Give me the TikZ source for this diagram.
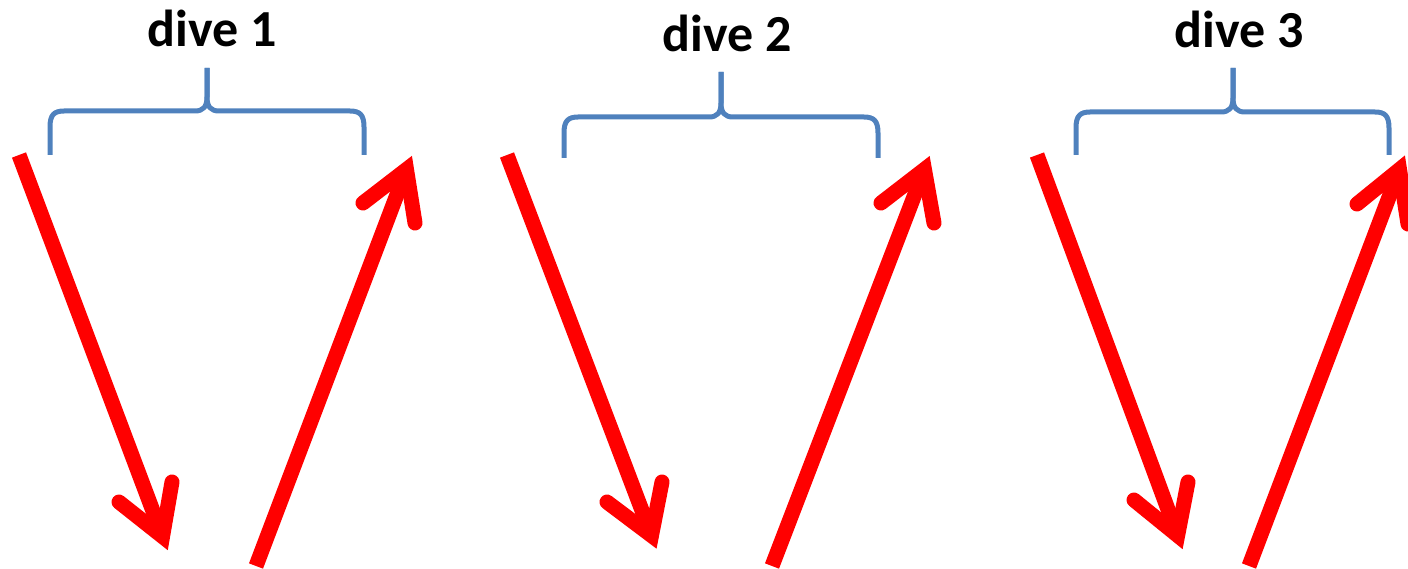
\documentclass[tikz,border=0pt]{standalone}
\usepackage{fontspec}
\setmainfont{Carlito}
\usetikzlibrary{calc}
\definecolor{arrowred}{RGB}{255,0,0}
\definecolor{braceblue}{RGB}{79,129,189}
\tikzset{
  shaft/.style={draw=arrowred, line width=15pt, line cap=butt},
  barb/.style={draw=arrowred, line width=15pt, line cap=round, line join=miter},
  bracket/.style={draw=braceblue, line width=5pt, line join=round},
  divelabel/.style={font=\bfseries\fontsize{52}{52}\selectfont, anchor=base, inner sep=0pt}
}
\newcommand\mkarrow[5]{%
  \coordinate (#1-s) at #2;
  \coordinate (#1-t) at #3;
  \coordinate (#1-a) at #4;
  \coordinate (#1-b) at #5;
  \coordinate (#1-v) at ($(#1-t)!15.5pt!(#1-s)$);
  \draw[shaft] (#1-s) -- (#1-v);
  \draw[barb] (#1-a) -- (#1-v) -- (#1-b);
}
% #1 name, #2 left x, #3 right x, #4 centre x, #5 horizontal y, #6 bottom y, #7 tip y
\newcommand\mkbrace[7]{%
  \coordinate (#1-l) at (#2,#6);
  \coordinate (#1-r) at (#3,#6);
  \coordinate (#1-c) at (#4,#7);
  \draw[bracket] (#1-l) -- ({#2},{#5+16}) .. controls ({#2},{#5+4}) and ({#2+4},{#5}) .. ({#2+14},{#5})
     -- ({#4-12},{#5}) .. controls ({#4-4},{#5}) and ({#4},{#5-4}) .. ({#4},{#5-14}) -- (#1-c);
  \draw[bracket] (#1-r) -- ({#3},{#5+16}) .. controls ({#3},{#5+4}) and ({#3-4},{#5}) .. ({#3-14},{#5})
     -- ({#4+12},{#5}) .. controls ({#4+4},{#5}) and ({#4},{#5-4}) .. ({#4},{#5-14}) -- (#1-c);
}
\begin{document}
\begin{tikzpicture}[x=1pt,y=-1pt]
\useasboundingbox (0,0) rectangle (1408,569);

% labels
\node[divelabel] (t1) at (212,47) {dive 1};
\node[divelabel] (t2) at (727,52) {dive 2};
\node[divelabel] (t3) at (1239,48) {dive 3};

% braces
\mkbrace{b1}{50}{364}{207}{111}{155}{68}
\mkbrace{b2}{564}{878}{721}{117}{158}{72}
\mkbrace{b3}{1076}{1389}{1233}{112}{155}{68}

% arrows
\mkarrow{d1}{(19,155)}{(168,551)}{(119,502)}{(172,482)}
\mkarrow{u1}{(256,566)}{(412,155)}{(363,203)}{(415,223)}
\mkarrow{d2}{(507,155)}{(657,550)}{(607,502)}{(662,482)}
\mkarrow{u2}{(772,566)}{(930,155)}{(881,203)}{(934,223)}
\mkarrow{d3}{(1037,155)}{(1183,550)}{(1134,500)}{(1188,482)}
\mkarrow{u3}{(1249,566)}{(1405,155)}{(1357,204)}{(1408,224)}
\end{tikzpicture}
\end{document}
